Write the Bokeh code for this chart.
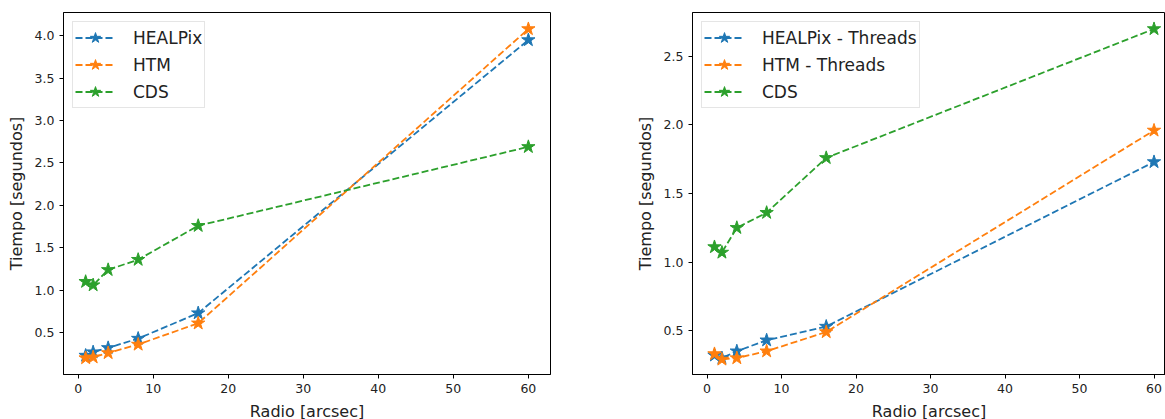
from bokeh.plotting import figure
from bokeh.layouts import row
from bokeh.models import FixedTicker, Range1d, NumeralTickFormatter
from bokeh.embed import file_html
from bokeh.resources import INLINE

# ---- data ----
radio = [1, 2, 4, 8, 16, 60]

healpix = [0.23, 0.27, 0.32, 0.43, 0.73, 3.95]
htm = [0.20, 0.21, 0.26, 0.36, 0.61, 4.08]
cds = [1.10, 1.06, 1.24, 1.36, 1.76, 2.69]

healpix_threads = [0.32, 0.30, 0.35, 0.43, 0.53, 1.73]
htm_threads = [0.33, 0.29, 0.30, 0.35, 0.49, 1.96]
cds_threads = [1.11, 1.07, 1.25, 1.36, 1.76, 2.70]

left_labels = ["HEALPix", "HTM", "CDS"]
right_labels = ["HEALPix - Threads", "HTM - Threads", "CDS"]

x_ticks = [0, 10, 20, 30, 40, 50, 60]
left_y_ticks = [0.5, 1.0, 1.5, 2.0, 2.5, 3.0, 3.5, 4.0]
right_y_ticks = [0.5, 1.0, 1.5, 2.0, 2.5]

x_label = "Radio [arcsec]"
y_label = "Tiempo [segundos]"

colors = ["#1f77b4", "#ff7f0e", "#2ca02c"]
FONT = "DejaVu Sans"


def make_fig(series, labels, yticks, x_rng, y_rng, frame_w, bl, br):
    p = figure(output_backend="svg", toolbar_location=None,
               frame_width=frame_w, frame_height=362,
               min_border_left=bl, min_border_right=br,
               min_border_top=12, min_border_bottom=45,
               x_range=Range1d(*x_rng), y_range=Range1d(*y_rng))
    p.background_fill_color = "white"
    p.border_fill_color = "white"
    p.outline_line_color = "black"
    p.outline_line_width = 1
    p.xgrid.visible = False
    p.ygrid.visible = False
    for ax in (p.xaxis[0], p.yaxis[0]):
        ax.axis_line_color = "black"
        ax.major_tick_line_color = "black"
        ax.major_tick_in = 0
        ax.major_tick_out = 4
        ax.minor_tick_line_color = None
        ax.major_label_text_font = FONT
        ax.major_label_text_font_size = "12.5px"
        ax.major_label_text_color = "#222222"
        ax.axis_label_text_font = FONT
        ax.axis_label_text_font_size = "16px"
        ax.axis_label_text_font_style = "normal"
        ax.axis_label_text_color = "#222222"
        ax.major_label_standoff = 5
        ax.axis_label_standoff = 6
    p.xaxis.ticker = FixedTicker(ticks=x_ticks)
    p.yaxis.ticker = FixedTicker(ticks=yticks)
    p.yaxis.formatter = NumeralTickFormatter(format="0.0")
    p.xaxis.axis_label = x_label
    p.yaxis.axis_label = y_label

    for ys, lab, c in zip(series, labels, colors):
        p.line(radio, ys, line_color=c, line_width=1.8, line_dash="7 3",
               legend_label=lab)
        p.scatter(radio, ys, marker="star", size=14, fill_color=c,
                  line_color=c, legend_label=lab)

    lg = p.legend[0]
    lg.location = "top_left"
    lg.margin = 9
    lg.padding = 2
    lg.spacing = 0
    lg.glyph_width = 40
    lg.glyph_height = 27
    lg.label_height = 27
    lg.label_standoff = 18
    lg.label_text_font = FONT
    lg.label_text_font_size = "17px"
    lg.label_text_color = "#222222"
    lg.border_line_color = "#cccccc"
    lg.border_line_width = 1
    lg.background_fill_alpha = 0.8
    return p


p1 = make_fig([healpix, htm, cds], left_labels, left_y_ticks,
              (-1.95, 62.95), (0.006, 4.274), 487, 63, 80)
p2 = make_fig([healpix_threads, htm_threads, cds_threads], right_labels,
              right_y_ticks, (-1.95, 61.54), (0.18, 2.82), 473, 62, 0)

layout = row(p1, p2)
open("out.html", "w").write(file_html(layout, INLINE))
